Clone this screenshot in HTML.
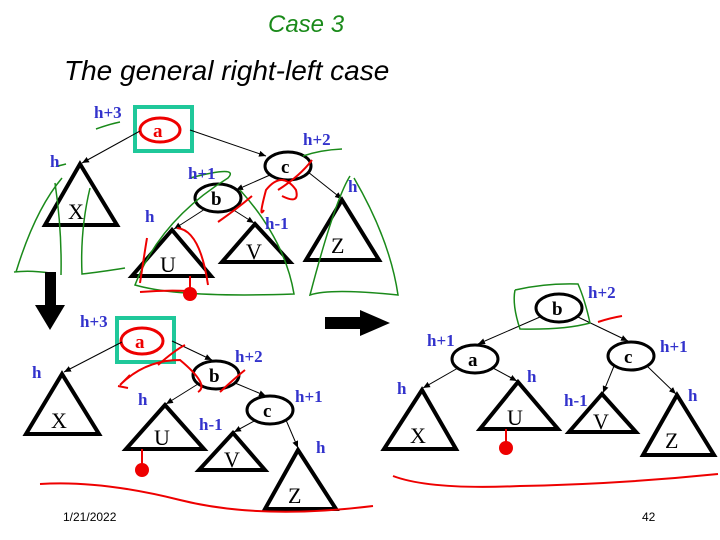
<!DOCTYPE html>
<html><head><style>
html,body{margin:0;padding:0;background:#fff;}
svg{display:block}
.t{font-family:"Liberation Serif",serif;font-weight:bold;fill:#3333cc;font-size:17px}
.n{font-family:"Liberation Serif",serif;font-size:22px;fill:#000}
.nb{font-family:"Liberation Serif",serif;font-weight:bold;font-size:19px;fill:#000}
</style></head><body>
<svg width="720" height="540" viewBox="0 0 720 540" xmlns="http://www.w3.org/2000/svg">
<defs><marker id="ar" markerWidth="8" markerHeight="8" refX="7" refY="4" orient="auto"><path d="M0,1 L7,4 L0,7 z" fill="#000"/></marker></defs>
<!-- title -->
<text x="268" y="32" font-family="Liberation Sans,sans-serif" font-size="24" fill="#1a8a1a" font-style="italic">Case 3</text>
<text x="64" y="80" font-family="Liberation Sans,sans-serif" font-size="28" font-style="italic" fill="#000">The general right-left case</text>
<g stroke="#000" fill="none">
<!-- TOP TREE -->
<rect x="135" y="107" width="57" height="44" stroke="#1fc89a" stroke-width="4"/>
<ellipse cx="160" cy="130" rx="20" ry="12" stroke="#e00" stroke-width="3"/>
<line x1="140" y1="131" x2="82" y2="163" marker-end="url(#ar)"/>
<line x1="190" y1="130" x2="266" y2="156" marker-end="url(#ar)"/>
<polygon points="80,164 45,225 117,225" stroke-width="4"/>
<ellipse cx="288" cy="166" rx="23" ry="14" stroke-width="3"/>
<line x1="270" y1="175" x2="236" y2="190" marker-end="url(#ar)"/>
<line x1="308" y1="172" x2="342" y2="199" marker-end="url(#ar)"/>
<ellipse cx="218" cy="198" rx="23" ry="14" stroke-width="3"/>
<line x1="205" y1="209" x2="174" y2="229" marker-end="url(#ar)"/>
<line x1="232" y1="209" x2="254" y2="223" marker-end="url(#ar)"/>
<polygon points="172,230 132,276 211,276" stroke-width="4"/>
<polygon points="255,224 222,262 290,262" stroke-width="4"/>
<polygon points="342,200 306,260 379,260" stroke-width="4"/>
<line x1="190" y1="276" x2="190" y2="292" stroke="#e00" stroke-width="2"/>
<!-- BOTTOM TREE -->
<rect x="117" y="318" width="57" height="44" stroke="#1fc89a" stroke-width="4"/>
<ellipse cx="142" cy="341" rx="21" ry="13" stroke="#e00" stroke-width="3"/>
<line x1="122" y1="342" x2="64" y2="372" marker-end="url(#ar)"/>
<line x1="172" y1="341" x2="212" y2="360" marker-end="url(#ar)"/>
<polygon points="62,374 26,434 99,434" stroke-width="4"/>
<ellipse cx="216" cy="375" rx="23" ry="14" stroke-width="3"/>
<line x1="198" y1="384" x2="166" y2="404" marker-end="url(#ar)"/>
<line x1="235" y1="383" x2="266" y2="396" marker-end="url(#ar)"/>
<polygon points="165,405 126,449 204,449" stroke-width="4"/>
<ellipse cx="270" cy="410" rx="23" ry="14" stroke-width="3"/>
<line x1="256" y1="420" x2="234" y2="432" marker-end="url(#ar)"/>
<line x1="286" y1="420" x2="298" y2="448" marker-end="url(#ar)"/>
<polygon points="233,433 199,470 265,470" stroke-width="4"/>
<polygon points="298,450 265,509 336,509" stroke-width="4"/>
<line x1="142" y1="449" x2="142" y2="465" stroke="#e00" stroke-width="2"/>
<!-- RIGHT TREE -->
<ellipse cx="559" cy="308" rx="23" ry="14" stroke-width="3"/>
<line x1="540" y1="317" x2="478" y2="344" marker-end="url(#ar)"/>
<line x1="578" y1="317" x2="628" y2="341" marker-end="url(#ar)"/>
<ellipse cx="475" cy="359" rx="23" ry="14" stroke-width="3"/>
<line x1="458" y1="368" x2="423" y2="388" marker-end="url(#ar)"/>
<line x1="493" y1="368" x2="517" y2="381" marker-end="url(#ar)"/>
<polygon points="422,390 384,449 456,449" stroke-width="4"/>
<polygon points="518,382 480,429 558,429" stroke-width="4"/>
<line x1="506" y1="429" x2="506" y2="443" stroke="#e00" stroke-width="2"/>
<ellipse cx="631" cy="356" rx="23" ry="14" stroke-width="3"/>
<line x1="614" y1="366" x2="603" y2="393" marker-end="url(#ar)"/>
<line x1="647" y1="366" x2="676" y2="394" marker-end="url(#ar)"/>
<polygon points="602,394 569,432 636,432" stroke-width="4"/>
<polygon points="677,395 643,455 714,455" stroke-width="4"/>
<!-- green scribbles -->
<g stroke="#1a8a1a" stroke-width="1.5">
<path d="M96,129 Q110,124 120,122"/>
<path d="M58,166 L66,164"/>
<path d="M62,178 Q35,210 16,272 M14,272 Q30,270 50,273"/>
<path d="M55,183 Q62,230 61,275"/>
<path d="M90,188 Q80,230 82,274 Q100,272 125,268"/>
<path d="M190,178 Q240,165 228,178 Q160,220 135,285 Q180,298 294,294 Q285,240 240,190"/>
<path d="M303,156 Q320,150 342,149"/>
<path d="M350,176 Q335,200 310,295 Q330,288 398,295 Q390,240 354,178"/>
<path d="M515,290 Q545,283 578,284 Q585,300 590,323 Q565,330 520,329 Q512,305 515,290"/>
</g>
<!-- red scribbles -->
<g stroke="#e00" stroke-width="2">
<path d="M278,190 Q300,176 312,160"/>
<path d="M218,222 Q238,208 252,196"/>
<path d="M264,210 Q258,220 266,190 Q282,170 296,190 Q300,205 282,196"/>
<path d="M177,228 Q200,230 208,285 M140,283 Q145,250 147,238 M140,292 Q165,290 188,291"/>
<path d="M198,392 Q210,385 180,360 Q145,360 120,385 L130,375 M118,386 L128,388"/>
<path d="M158,365 Q175,350 185,345"/>
<path d="M220,392 Q235,378 245,370"/>
<path d="M598,322 Q610,318 622,316"/>
<path d="M40,484 Q100,480 180,500 Q260,520 373,506"/>
<path d="M393,476 Q430,490 520,486 Q620,484 718,474"/>
</g>
<g stroke="none" fill="#e00">
<circle cx="190" cy="294" r="7"/><circle cx="142" cy="470" r="7"/><circle cx="506" cy="448" r="7"/>
</g>
</g>
<!-- big arrows -->
<polygon points="45,272 56,272 56,305 65,305 50,330 35,305 45,305" fill="#000"/>
<polygon points="325,317 360,317 360,310 390,323 360,336 360,329 325,329" fill="#000"/>
<!-- node labels -->
<text class="nb" x="153" y="137" fill="#e00" style="fill:#e00">a</text>
<text class="nb" x="281" y="173">c</text>
<text class="nb" x="211" y="205">b</text>
<text class="n" x="68" y="219">X</text><text class="n" x="160" y="272">U</text>
<text class="n" x="246" y="259">V</text><text class="n" x="331" y="253">Z</text>
<text class="nb" x="135" y="348" style="fill:#e00">a</text>
<text class="nb" x="209" y="382">b</text><text class="nb" x="263" y="417">c</text>
<text class="n" x="51" y="428">X</text><text class="n" x="154" y="445">U</text>
<text class="n" x="224" y="467">V</text><text class="n" x="288" y="503">Z</text>
<text class="nb" x="552" y="315">b</text><text class="nb" x="468" y="366">a</text><text class="nb" x="624" y="363">c</text>
<text class="n" x="410" y="443">X</text><text class="n" x="507" y="425">U</text>
<text class="n" x="593" y="429">V</text><text class="n" x="665" y="448">Z</text>
<!-- height labels -->
<text class="t" x="94" y="118">h+3</text><text class="t" x="50" y="167">h</text>
<text class="t" x="303" y="145">h+2</text><text class="t" x="188" y="179">h+1</text>
<text class="t" x="145" y="222">h</text><text class="t" x="265" y="229">h-1</text><text class="t" x="348" y="192">h</text>
<text class="t" x="80" y="327">h+3</text><text class="t" x="32" y="378">h</text>
<text class="t" x="235" y="362">h+2</text><text class="t" x="138" y="405">h</text>
<text class="t" x="295" y="402">h+1</text><text class="t" x="199" y="430">h-1</text><text class="t" x="316" y="453">h</text>
<text class="t" x="588" y="298">h+2</text><text class="t" x="427" y="346">h+1</text>
<text class="t" x="660" y="352">h+1</text><text class="t" x="397" y="394">h</text><text class="t" x="527" y="382">h</text>
<text class="t" x="564" y="406">h-1</text><text class="t" x="688" y="401">h</text>
<text x="63" y="521" font-family="Liberation Sans,sans-serif" font-size="12" fill="#000">1/21/2022</text>
<text x="642" y="521" font-family="Liberation Sans,sans-serif" font-size="12" fill="#000">42</text>
</svg>
</body></html>
